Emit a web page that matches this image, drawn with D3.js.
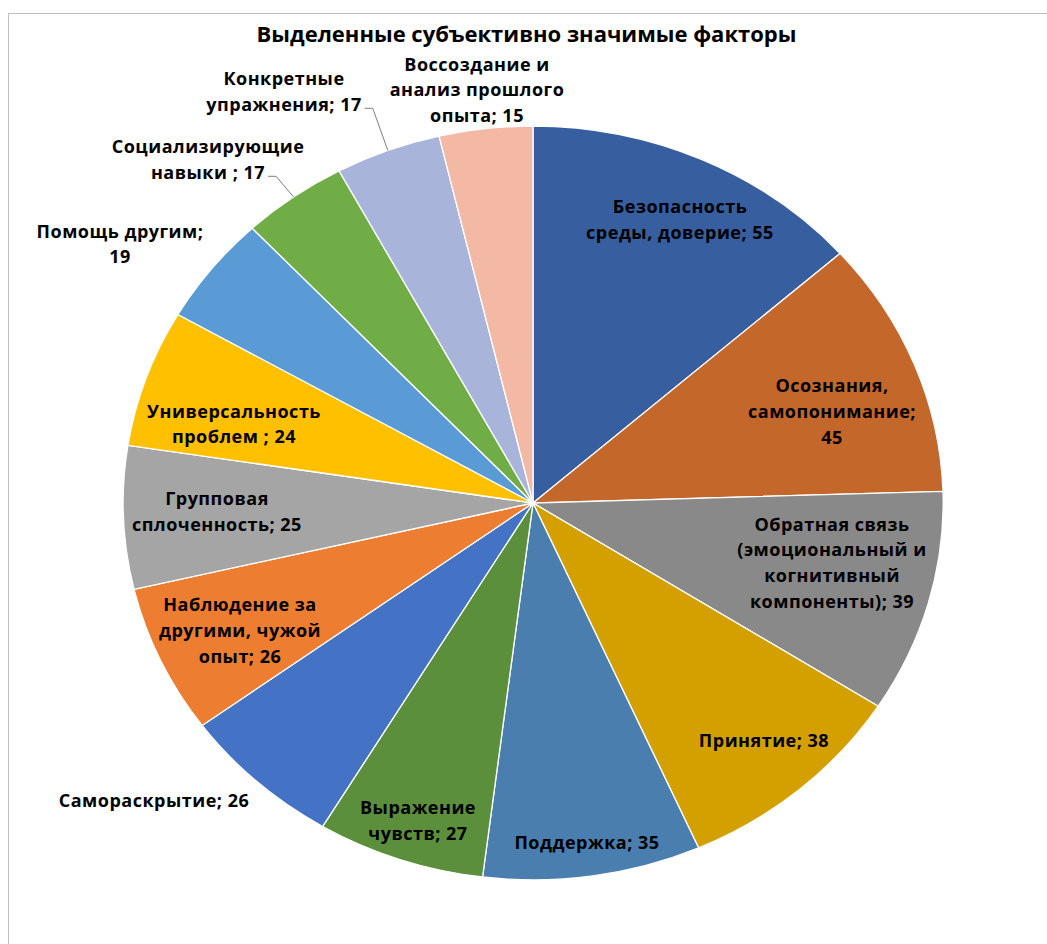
<!DOCTYPE html>
<html lang="ru">
<head>
<meta charset="utf-8">
<script src="https://cdn.jsdelivr.net/npm/d3@7"></script>
<style>
  html, body { margin: 0; padding: 0; background: #fff; }
  svg { display: block; }
  text { font-family: "Open Sans", "Noto Sans", "DejaVu Sans", sans-serif; font-weight: 700; fill: #000; }
</style>
</head>
<body>
<svg id="chart" width="1047" height="944"></svg>
<script>
// Factors named by participants (number of mentions), clockwise from 12 o'clock
const categories = [
  "Безопасность\nсреды, доверие",
  "Осознания,\nсамопонимание",
  "Обратная связь\n(эмоциональный и\nкогнитивный\nкомпоненты)",
  "Принятие",
  "Поддержка",
  "Выражение\nчувств",
  "Самораскрытие",
  "Наблюдение за\nдругими, чужой\nопыт",
  "Групповая\nсплоченность",
  "Универсальность\nпроблем ",
  "Помощь другим",
  "Социализирующие\nнавыки ",
  "Конкретные\nупражнения",
  "Воссоздание и\nанализ прошлого\nопыта"
];
const values = [55, 45, 39, 38, 35, 27, 26, 26, 25, 24, 19, 17, 17, 15];
const title = "Выделенные субъективно значимые факторы";

// Slice colours
const colors = [
  "#375E9F", "#C4672B", "#898989", "#D3A000", "#4A7EAF", "#5B8F3B", "#4472C4",
  "#ED7D31", "#A5A5A5", "#FFC000", "#5B9BD5", "#70AD47", "#A8B4D9", "#F4B9A4"
];

// Label layout: centre x and first-line centre y, whether the value sits on its own line,
// and whether a leader line joins the label to its slice
const labelPos = [
  [680, 206], [832, 385], [832, 523.5], [764, 739.5], [587, 842], [418, 807], [154, 800],
  [240, 604], [217, 498], [234, 410.5], [120, 230.5], [208, 146], [284, 78], [477, 63.5]
];
const valueOwnLine = [false, true, false, false, false, false, false, false, false, false, true, false, false, false];
const hasLeader = [false, false, false, false, false, false, false, false, false, false, false, true, true, false];

const W = 1047, H = 944;
const cx = 533, cy = 503, rx = 410, ry = 377;
const fontSize = 18, lineH = 25.8;

const svg = d3.select("#chart");

// chart area border
svg.append("rect")
  .attr("x", 8.5).attr("y", 13.5)
  .attr("width", W + 20).attr("height", H + 20)
  .attr("fill", "none").attr("stroke", "#BFBFBF").attr("stroke-width", 1);

svg.append("text")
  .attr("x", 526.5).attr("y", 33)
  .attr("text-anchor", "middle")
  .attr("dominant-baseline", "central")
  .style("font-size", "22px")
  .text(title);

const data = categories.map((c, i) => ({ name: c, value: values[i], color: colors[i], i }));

const pie = d3.pie().value(d => d.value).sort(null).startAngle(0).endAngle(2 * Math.PI);
const arcs = pie(data);

// unit arc, stretched to the ellipse by the group transform
const arc = d3.arc().innerRadius(0).outerRadius(1);

const pieG = svg.append("g")
  .attr("transform", `translate(${cx},${cy}) scale(${rx},${ry})`);

pieG.selectAll("path")
  .data(arcs)
  .join("path")
  .attr("d", arc)
  .attr("fill", d => d.data.color)
  .attr("stroke", "#fff")
  .attr("stroke-width", 1.3)
  .attr("vector-effect", "non-scaling-stroke");

// data labels
const labelG = svg.append("g");
arcs.forEach((a, i) => {
  const d = a.data;
  const text = d.name + ";" + (valueOwnLine[i] ? "\n" : " ") + d.value;
  const lines = text.split("\n");
  const [lx, ly] = labelPos[i];
  const t = labelG.append("text")
    .attr("text-anchor", "middle")
    .style("font-size", fontSize + "px")
    .style("letter-spacing", "0.5px");
  lines.forEach((ln, k) => {
    t.append("tspan")
      .attr("x", lx)
      .attr("y", ly + k * lineH)
      .attr("dominant-baseline", "central")
      .attr("xml:space", "preserve")
      .text(ln);
  });

  if (hasLeader[i]) {
    const last = t.selectAll("tspan").nodes().slice(-1)[0];
    const w = last.getComputedTextLength();
    const y0 = ly + (lines.length - 1) * lineH + 4.5;
    const x0 = lx + w / 2 + 3;
    const mid = (a.startAngle + a.endAngle) / 2;
    const ex = cx + rx * Math.sin(mid);
    const ey = cy - ry * Math.cos(mid);
    svg.append("path")
      .attr("d", `M${x0},${y0}H${x0 + 8}L${ex},${ey}`)
      .attr("fill", "none")
      .attr("stroke", "#7F7F7F")
      .attr("stroke-width", 1);
  }
});
</script>
</body>
</html>
